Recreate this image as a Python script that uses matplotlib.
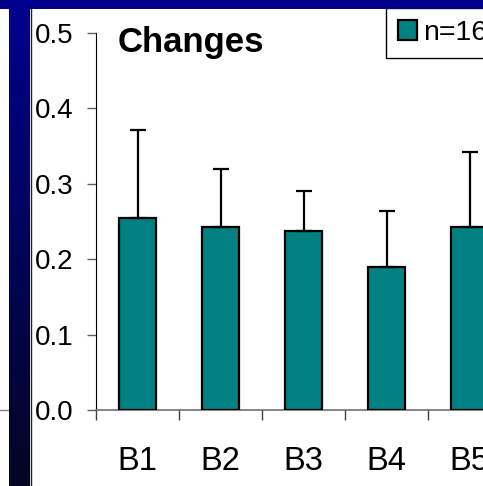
import numpy as np
import matplotlib
matplotlib.use("Agg")
import matplotlib.pyplot as plt
from matplotlib.patches import Rectangle
from matplotlib.lines import Line2D

labels = ["B1", "B2", "B3", "B4", "B5"]
means = [0.255, 0.243, 0.238, 0.190, 0.243]
errs = [0.116, 0.076, 0.052, 0.0735, 0.099]   # upper error only
legend_label = "n=16"

plt.rcParams['font.family'] = ['Liberation Sans', 'DejaVu Sans']

W, H = 483, 486
fig = plt.figure(figsize=(W/100, H/100), dpi=100)
fig.patch.set_facecolor("white")

def fx(px): return px / W
def fy(py): return 1 - py / H

# axes: x from 96px with 83px per category (runs off the right edge), y 0 at 410px, 0.5 at 33px
ax = fig.add_axes([fx(96), fy(410), 415/W, 377/H])
x = np.arange(len(labels)) + 0.5
ax.bar(x, means, width=0.44, color="#008080", edgecolor="black", linewidth=1.6,
       yerr=[np.zeros(len(errs)), errs], capsize=6,
       error_kw=dict(ecolor="black", elinewidth=1.6, capthick=1.6),
       label=legend_label, zorder=3)
ax.set_xlim(0, 5)
ax.set_ylim(0, 0.5)

for s in ["top", "right"]:
    ax.spines[s].set_visible(False)
ax.spines["left"].set_color("black")
ax.spines["bottom"].set_color("#707070")
ax.spines["bottom"].set_linewidth(1.2)

ax.set_yticks([0, 0.1, 0.2, 0.3, 0.4, 0.5])
ax.set_yticklabels(["0.0", "0.1", "0.2", "0.3", "0.4", "0.5"])
ax.tick_params(axis="y", direction="out", length=6.5, width=1, color="#606060",
               labelsize=20, pad=10)
ax.set_xticks(np.arange(6))
ax.set_xticklabels([])
ax.tick_params(axis="x", which="major", direction="out", length=7.2, width=1, color="#404040")
ax.set_xticks(x, minor=True)
ax.set_xticklabels(labels, minor=True)
ax.tick_params(axis="x", which="minor", length=0, labelsize=23.5, pad=26)

# legend box at top right, clipped by the frame
ax.legend(loc="upper left", bbox_to_anchor=(fx(386), fy(8)), bbox_transform=fig.transFigure,
          fontsize=20.5, frameon=True, fancybox=False, edgecolor="black", framealpha=1,
          handlelength=0.68, handleheight=0.68, handletextpad=0.2, borderpad=0.42,
          borderaxespad=0)

fig.text(fx(118), fy(52), "Changes", fontsize=25, fontweight="bold", va="baseline")

# slide decoration: navy band on top, gradient strip on the left
fig.add_artist(Line2D([0, fx(10)], [fy(410), fy(410)], color="#808080", lw=1, transform=fig.transFigure))
fig.patches.append(Rectangle((0, fy(9)), 1, 9/H, transform=fig.transFigure,
                             facecolor="#00008a", edgecolor="none", zorder=10))
strip = fig.add_axes([fx(9), 0, 21/W, 1], zorder=11)
top = np.array([0.0, 0.0, 0.56])
bot = np.array([0.02, 0.02, 0.14])
t = np.linspace(0, 1, 256)[:, None]
grad = (top * (1 - t) + bot * t)[:, None, :]
strip.imshow(grad, aspect="auto", extent=[0, 1, 0, 1])
strip.axis("off")
fig.add_artist(Line2D([fx(30.5), fx(30.5)], [0, fy(9)], color="#202030", lw=1, transform=fig.transFigure, zorder=12))

fig.savefig("out.png", dpi=100)
